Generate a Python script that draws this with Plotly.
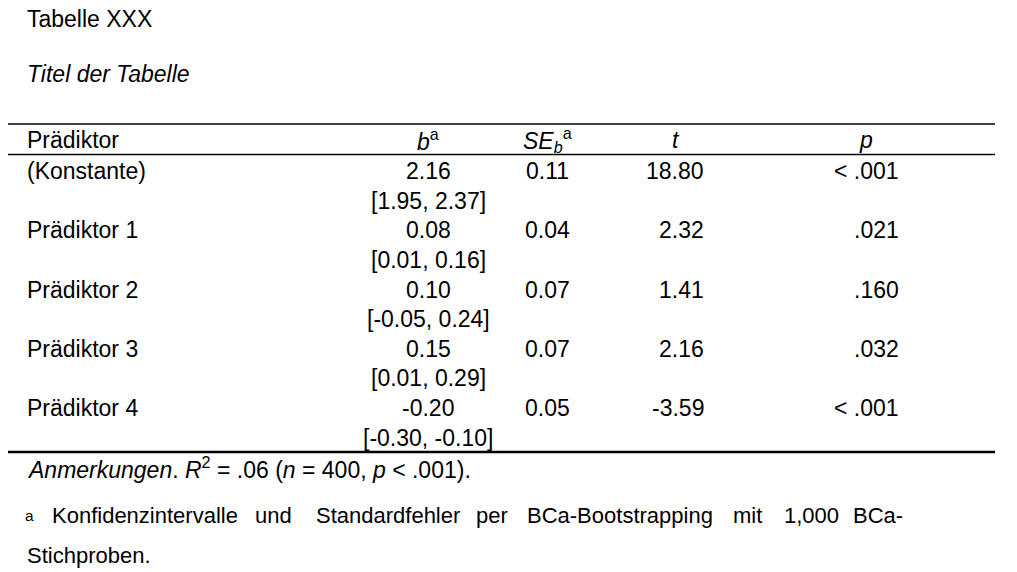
import plotly.graph_objects as go

predictors = ["(Konstante)", "Prädiktor 1", "Prädiktor 2", "Prädiktor 3", "Prädiktor 4"]
b_vals = ["2.16", "0.08", "0.10", "0.15", "-0.20"]
ci_vals = ["[1.95, 2.37]", "[0.01, 0.16]", "[-0.05, 0.24]", "[0.01, 0.29]", "[-0.30, -0.10]"]
se_vals = ["0.11", "0.04", "0.07", "0.07", "0.05"]
t_vals = ["18.80", "2.32", "1.41", "2.16", "-3.59"]
p_vals = ["&lt; .001", ".021", ".160", ".032", "&lt; .001"]

W, H = 1017, 572
DX, DY = -10, -9
FONT = "Liberation Sans, Arial, sans-serif"
FS = 23
ann = []
def txt(x, y, s, anchor="left", size=FS):
    ann.append(dict(x=x + DX, y=y + DY, text=s, xref="x", yref="y", showarrow=False,
                    xanchor=anchor, yanchor="middle", font=dict(family=FONT, size=size, color="black")))

txt(27, 20, "Tabelle XXX")
txt(27, 75, "<i>Titel der Tabelle</i>")
hy = 141
txt(27, hy, "Prädiktor")
txt(430, hy, "<i>b</i><sup>a</sup>", "center")
txt(549, hy, "<i>SE<sub>b</sub></i><sup>a</sup>", "center")
txt(678, hy, "<i>t</i>", "center")
txt(868, hy, "<i>p</i>", "center")

row0, step = 172, 59.3
for i, name in enumerate(predictors):
    y = row0 + i * step
    txt(27, y, name)
    txt(430, y, b_vals[i], "center")
    txt(430, y + 29.5, ci_vals[i], "center")
    txt(549, y, se_vals[i], "center")
    txt(708, y, t_vals[i], "right")
    txt(903, y, p_vals[i], "right")

txt(27, 469, "<i>Anmerkungen</i>. <i>R</i><sup>2</sup> = .06 (<i>n</i> = 400, <i>p</i> &lt; .001).")
words = ["<sup>a</sup>", "Konfidenzintervalle", "und", "Standardfehler", "per",
         "BCa-Bootstrapping", "mit", "1,000", "BCa-"]
wx = [25, 52, 255, 316, 476, 527, 733, 784, 853]
for w, x in zip(words, wx):
    txt(x, 516, w, size=22)
txt(27, 556, "Stichproben.", size=22)

shapes = [
    dict(type="line", x0=10 + DX, x1=997 + DX, y0=125 + DY, y1=125 + DY, line=dict(color="black", width=1.5)),
    dict(type="line", x0=10 + DX, x1=997 + DX, y0=155.5 + DY, y1=155.5 + DY, line=dict(color="black", width=1.5)),
    dict(type="line", x0=10 + DX, x1=997 + DX, y0=453 + DY, y1=453 + DY, line=dict(color="black", width=2.5)),
]

fig = go.Figure()
fig.update_layout(width=W, height=H, margin=dict(l=0, r=0, t=0, b=0),
                  paper_bgcolor="white", plot_bgcolor="white",
                  xaxis=dict(range=[0, W], visible=False, fixedrange=True),
                  yaxis=dict(range=[H, 0], visible=False, fixedrange=True),
                  annotations=ann, shapes=shapes, showlegend=False)
fig.write_html("out.html")
